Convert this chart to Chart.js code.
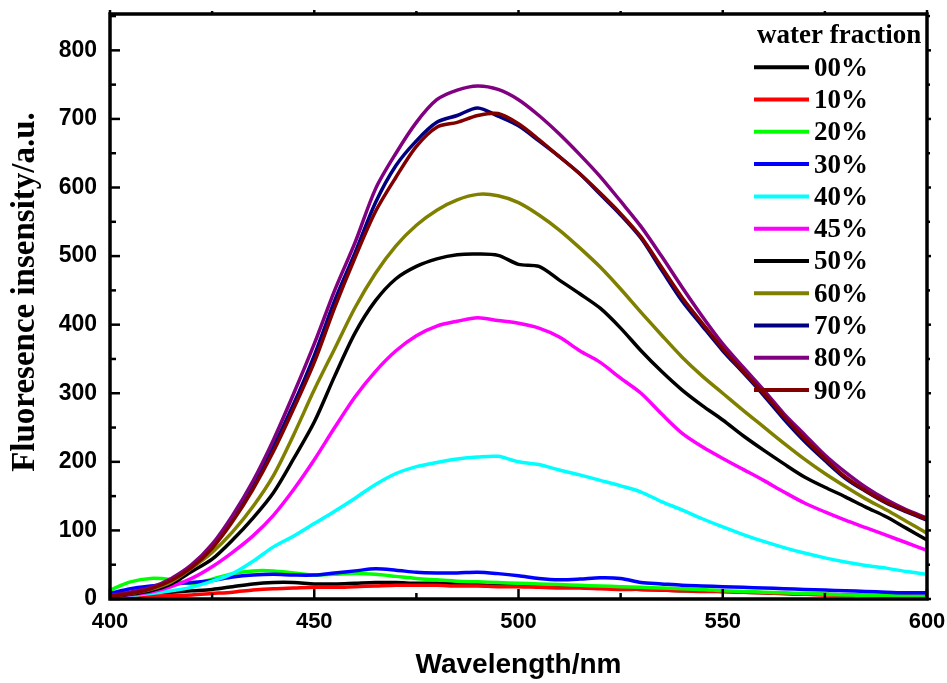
<!DOCTYPE html>
<html>
<head>
<meta charset="utf-8">
<script src="https://cdn.jsdelivr.net/npm/chart.js@4.4.1/dist/chart.umd.min.js"></script>
<style>
  html, body { margin: 0; padding: 0; background: #ffffff; }
  #wrap { width: 947px; height: 683px; }
</style>
</head>
<body>
<div id="wrap"><canvas id="c" width="947" height="683"></canvas></div>
<script>
const wavelengths = [400,405,410,415,420,425,430,435,440,445,450,455,460,465,470,475,480,485,490,495,500,505,510,515,520,525,530,535,540,545,550,555,560,565,570,575,580,585,590,595,600];

const seriesLabels = ["00%","10%","20%","30%","40%","45%","50%","60%","70%","80%","90%"];
const seriesColors = ["#000000","#ff0000","#00ff00","#0000ff","#00ffff","#ff00ff","#000000","#808000","#000080","#800080","#800000"];

const w00 = [4,6,8,10,12,14,18,22,24,24,22,22,23,24,24,23,23,22,21,20,19,18,17,17,16,15,14,13,12,12,11,10,9,8,7,7,6,5,5,4,4];
const w10 = [0,2,4,5,6,8,10,13,15,16,17,17,18,19,20,20,20,19,19,18,18,17,16,16,15,14,14,13,12,11,11,10,9,8,7,6,6,5,4,4,3];
const w20 = [13,25,30,28,22,29,37,41,41,38,35,36,37,36,33,30,28,26,25,24,23,22,21,20,19,18,17,16,15,14,12,11,10,9,8,7,6,5,5,4,3];
const w30 = [8,15,19,22,24,27,32,35,36,35,35,38,41,44,42,39,38,38,39,37,34,30,28,29,31,30,24,22,20,19,18,17,16,15,14,13,12,11,10,9,9];
const w40 = [3,5,8,12,17,26,37,55,76,92,110,128,147,167,183,193,199,204,207,208,200,196,188,181,173,165,156,142,130,117,105,94,84,75,67,60,54,49,45,40,36];
const w45 = [3,6,10,18,30,47,68,92,122,160,203,250,295,332,362,384,398,405,410,406,402,395,382,362,345,322,300,270,242,222,205,189,173,156,140,127,115,104,93,82,71];
const w50 = [4,7,12,22,40,58,86,118,155,205,258,325,388,435,467,485,496,502,503,501,488,485,465,445,424,395,362,332,305,282,261,238,217,197,178,163,149,134,120,103,86];
const w60 = [4,8,14,25,45,68,98,135,180,240,305,365,425,475,515,545,567,582,590,588,578,560,538,512,484,452,418,385,353,325,300,275,251,227,204,183,164,146,130,113,96];
const w70 = [5,9,16,28,48,77,117,165,222,285,355,435,505,578,632,668,695,705,716,704,690,668,645,620,590,560,526,480,435,398,362,330,297,262,230,202,176,157,140,127,115];
const w80 = [5,10,17,30,50,80,122,172,232,300,372,450,520,598,650,695,728,742,748,743,728,705,678,648,616,580,543,500,455,412,372,338,305,270,240,210,185,163,145,130,118];
const w90 = [4,8,15,27,46,74,113,160,215,278,345,425,498,565,615,660,688,695,705,708,693,670,645,620,592,562,528,484,440,402,365,332,300,266,234,205,178,158,141,128,116];

const seriesValues = [w00,w10,w20,w30,w40,w45,w50,w60,w70,w80,w90];

const xMajorTicks = [400,450,500,550,600];
const xMinorTicks = [425,475,525,575];
const yMajorTicks = [0,100,200,300,400,500,600,700,800];
const yMinorTicks = [50,150,250,350,450,550,650,750,850];

const legendTitle = "water fraction";
const xTitle = "Wavelength/nm";
const yTitle = "Fluoresence insensity/a.u.";

const SERIF = "'Liberation Serif', 'Times New Roman', serif";
const SANS = "'Liberation Sans', Arial, sans-serif";

const datasets = seriesValues.map((vals, i) => ({
  label: seriesLabels[i],
  data: vals.map((v, k) => ({ x: wavelengths[k], y: v })),
  borderColor: seriesColors[i],
  backgroundColor: seriesColors[i],
  borderWidth: 3.5,
  pointRadius: 0,
  tension: 0.3,
  fill: false,
  order: seriesValues.length - i
}));

const decorPlugin = {
  id: 'decor',
  afterDatasetsDraw(chart) {
    const { ctx, chartArea, scales } = chart;
    const { left, right, top, bottom } = chartArea;
    const xs = scales.x, ys = scales.y;
    ctx.save();
    ctx.strokeStyle = '#000';
    ctx.lineCap = 'butt';
    ctx.lineWidth = 2.5;
    const line = (x1, y1, x2, y2) => { ctx.beginPath(); ctx.moveTo(x1, y1); ctx.lineTo(x2, y2); ctx.stroke(); };
    xMajorTicks.forEach(v => { const p = xs.getPixelForValue(v); line(p, bottom, p, bottom - 10); line(p, top, p, top - 4); });
    xMinorTicks.forEach(v => { const p = xs.getPixelForValue(v); line(p, bottom, p, bottom - 6); line(p, top, p, top - 3); });
    yMajorTicks.forEach(v => { const p = ys.getPixelForValue(v); line(left, p, left + 10, p); line(right, p, right + 4, p); });
    yMinorTicks.forEach(v => { const p = ys.getPixelForValue(v); line(left, p, left + 6, p); line(right, p, right + 3, p); });
    ctx.lineWidth = 3.5;
    ctx.strokeRect(left, top, right - left, bottom - top);

    ctx.fillStyle = '#000';
    ctx.font = "bold 27px " + SERIF;
    ctx.textBaseline = 'alphabetic';
    ctx.textAlign = 'left';
    ctx.fillText(legendTitle, 757, 43);
    chart.data.datasets.forEach((ds, i) => {
      const yc = 67.3 + 32.27 * i;
      ctx.strokeStyle = ds.borderColor;
      ctx.lineWidth = 4;
      line(754, yc, 809, yc);
      ctx.fillStyle = '#000';
      ctx.fillText(ds.label, 814, yc + 8.5);
    });

    ctx.save();
    ctx.translate(34, 292);
    ctx.rotate(-Math.PI / 2);
    ctx.font = "bold 33px " + SERIF;
    ctx.textAlign = 'center';
    ctx.textBaseline = 'alphabetic';
    ctx.fillStyle = '#000';
    ctx.fillText(yTitle, 0, 0);
    ctx.restore();
    ctx.restore();
  }
};

new Chart(document.getElementById('c'), {
  type: 'line',
  data: { datasets },
  plugins: [decorPlugin],
  options: {
    responsive: false,
    animation: false,
    devicePixelRatio: 1,
    layout: { padding: { top: 14, right: 20, left: 0, bottom: 0 } },
    plugins: { legend: { display: false }, tooltip: { enabled: false } },
    scales: {
      x: {
        type: 'linear',
        min: 400, max: 600,
        grid: { display: false, drawTicks: false },
        border: { display: false },
        ticks: {
          stepSize: 50, padding: 10, color: '#000',
          font: { family: SANS, weight: 'bold', size: 22 }
        },
        title: {
          display: true, text: xTitle, color: '#000',
          font: { family: SANS, weight: 'bold', size: 28 },
          padding: { top: 0, bottom: 1 }
        },
        afterFit(s) { s.height = 84; s.paddingLeft = 0; s.paddingRight = 0; }
      },
      y: {
        type: 'linear',
        min: 0, max: 853,
        grid: { display: false, drawTicks: false },
        border: { display: false },
        ticks: {
          stepSize: 100, padding: 13, color: '#000', includeBounds: false,
          font: { family: SANS, weight: 'bold', size: 23 }
        },
        afterFit(s) { s.width = 110; s.paddingTop = 0; s.paddingBottom = 0; }
      }
    }
  }
});
</script>
</body>
</html>
